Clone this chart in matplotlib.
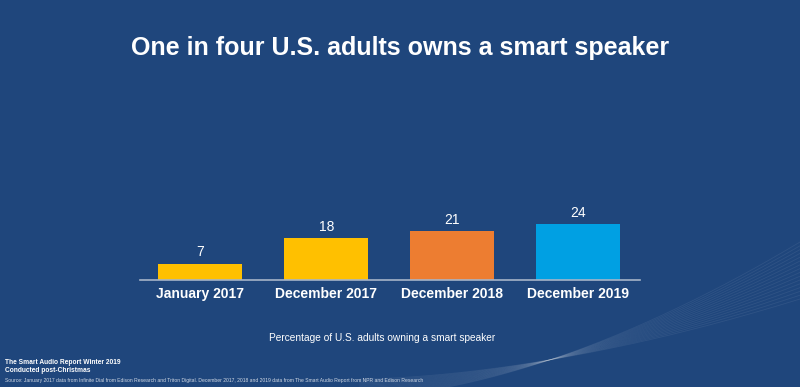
import numpy as np
import matplotlib.pyplot as plt

# data
categories = ["January 2017", "December 2017", "December 2018", "December 2019"]
values = [7, 18, 21, 24]
bar_colors = ["#FFC000", "#FFC000", "#ED7D31", "#00A0E3"]

bg = "#1F467C"

plt.rcParams['font.family'] = ['Liberation Sans', 'DejaVu Sans']
fig = plt.figure(figsize=(8, 3.87), dpi=100, facecolor=bg)

# decorative wave lines in the lower right
deco = fig.add_axes([0, 0, 1, 1], zorder=0)
deco.set_xlim(0, 800)
deco.set_ylim(387, 0)
deco.axis("off")
xs = np.linspace(360, 800, 200)
for k in range(16):
    t = (xs - 360) / 440
    ys = 387 - 8 - (80 + k * 5) * t ** 1.7 + k * 1.2
    deco.plot(xs, ys, color="white", alpha=0.07, lw=0.6)

ax = fig.add_axes([0.175, 0.2765, 0.625, 0.26], zorder=1)
ax.set_facecolor("none")
x = np.arange(len(categories))
ax.bar(x, values, width=0.667, color=bar_colors)
ax.set_xlim(-0.48, 3.49)
ax.set_ylim(0, 43.5)

for xi, v in zip(x, values):
    ax.text(xi, v + 2.0, str(v), ha="center", va="bottom", color="white", fontsize=10)

ax.set_xticks(x)
ax.set_xticklabels(categories, fontsize=10, fontweight="bold", color="white")
ax.tick_params(axis="x", length=0, pad=5)
ax.set_yticks([])
for s in ["top", "right", "left"]:
    ax.spines[s].set_visible(False)
ax.spines["bottom"].set_color("#A6B4C8")
ax.spines["bottom"].set_linewidth(1.2)

fig.text(0.5, 0.877, "One in four U.S. adults owns a smart speaker", ha="center", va="center",
         color="white", fontsize=18, fontweight="bold")
fig.text(0.478, 0.126, "Percentage of U.S. adults owning a smart speaker", ha="center", va="center",
         color="white", fontsize=7.3)
fig.text(0.006, 0.064, "The Smart Audio Report Winter 2019", ha="left", va="center",
         color="white", fontsize=4.8, fontweight="bold")
fig.text(0.006, 0.043, "Conducted post-Christmas", ha="left", va="center",
         color="white", fontsize=4.8, fontweight="bold")
fig.text(0.006, 0.016, "Source: January 2017 data from Infinite Dial from Edison Research and Triton Digital. "
         "December 2017, 2018 and 2019 data from The Smart Audio Report from NPR and Edison Research",
         ha="left", va="center", color="#D0D8E4", fontsize=3.6)

fig.savefig("out.png", dpi=100, facecolor=bg)
